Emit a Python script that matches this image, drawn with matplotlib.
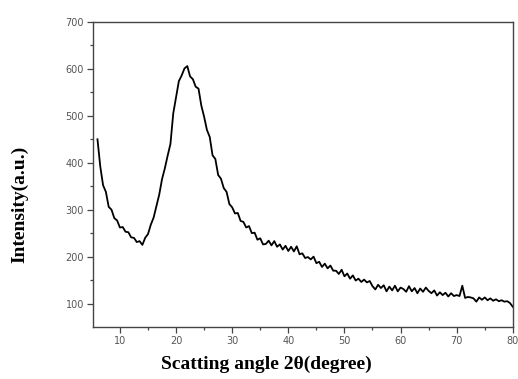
import numpy as np
import matplotlib.pyplot as plt

# XRD pattern (2theta in degrees, intensity a.u.)
two_theta = np.arange(6.0, 80.01, 0.5)
intensity = [
    450, 392, 352, 338, 306, 300, 282, 277, 262, 263,
    253, 252, 241, 240, 231, 233, 225, 240, 248, 268,
    283, 308, 332, 365, 388, 415, 440, 505, 540, 574,
    586, 601, 606, 584, 578, 562, 558, 522, 498, 470,
    455, 416, 408, 374, 366, 346, 338, 312, 305, 292,
    293, 276, 274, 262, 265, 250, 251, 236, 239, 226,
    227, 234, 224, 233, 221, 226, 215, 223, 212, 221,
    211, 222, 205, 207, 197, 199, 194, 200, 186, 189,
    178, 185, 175, 181, 170, 170, 163, 172, 158, 164,
    153, 160, 149, 153, 146, 151, 145, 148, 137, 130,
    140, 133, 139, 126, 136, 128, 138, 126, 134, 131,
    125, 137, 126, 133, 122, 132, 125, 134, 127, 122,
    128, 117, 124, 118, 123, 115, 122, 116, 118, 116,
    138, 112, 114, 113, 111, 104, 113, 108, 113, 107,
    111, 106, 109, 105, 107, 104, 105, 101, 93,
]

x_ticks = [10, 20, 30, 40, 50, 60, 70, 80]
y_ticks = [100, 200, 300, 400, 500, 600, 700]

fig = plt.figure(figsize=(5.18, 3.79), dpi=100)
ax = fig.add_axes([0.1795, 0.1372, 0.8105, 0.8048])

ax.plot(two_theta, intensity, color="black", lw=1.3)

ax.set_xlim(5.2, 80)
ax.set_ylim(50, 700)
ax.set_xticks(x_ticks)
ax.set_yticks(y_ticks)
ax.set_xticks(np.arange(15, 80, 10), minor=True)
ax.set_yticks(np.arange(150, 700, 100), minor=True)

for s in ax.spines.values():
    s.set_color("#444444")
    s.set_linewidth(1.0)

ax.tick_params(which="major", direction="out", length=4.5, width=0.9,
               color="#444444", labelsize=7, labelcolor="#555555", pad=2)
ax.tick_params(which="minor", direction="out", length=2.5, width=0.9,
               color="#444444")

lab = dict(family="Liberation Serif", fontsize=14, fontweight="bold")
fig.text(0.515, 0.026, "Scatting angle 2\u03b8(degree)", ha="center", va="baseline", **lab)
fig.text(0.038, 0.46, "Intensity(a.u.)", rotation=90, ha="center", va="center", **lab)

fig.savefig("out.png", dpi=100)
